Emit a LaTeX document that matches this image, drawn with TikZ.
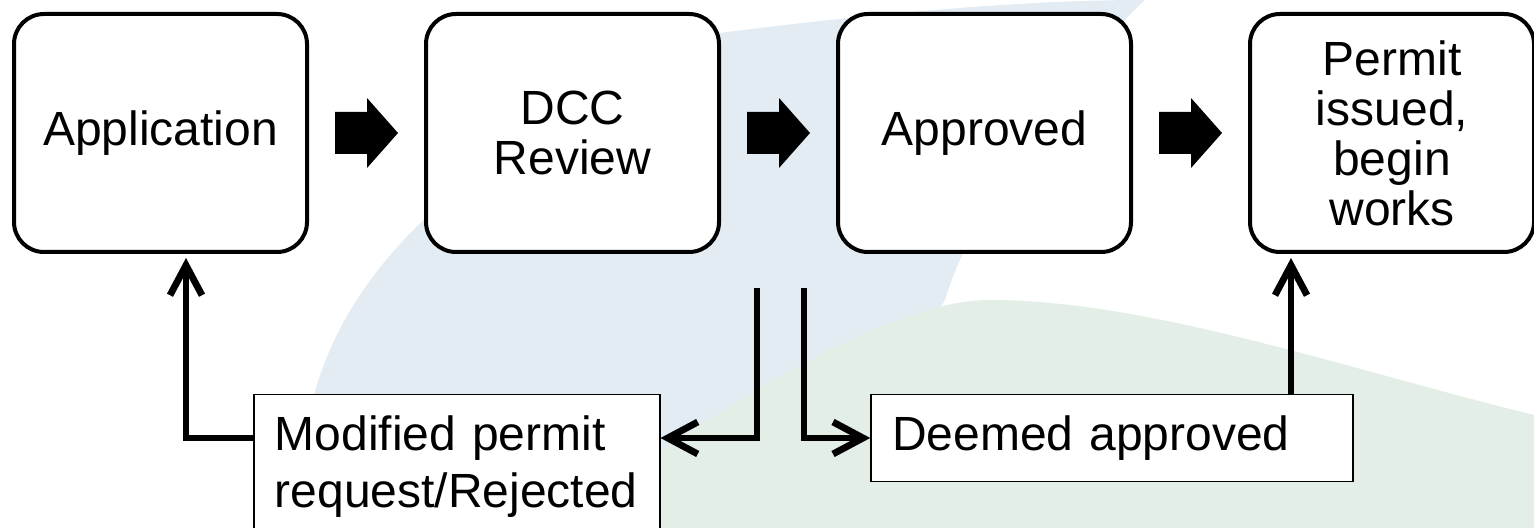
\documentclass[tikz,border=0pt]{standalone}
\usepackage{fontspec}
\setmainfont{Liberation Sans}
\usetikzlibrary{positioning,calc,arrows.meta}
\definecolor{bgblue}{HTML}{E3EBF3}
\definecolor{bggreen}{HTML}{E3EEE6}
\tikzset{
	stage/.style={draw, line width=2pt, rounded corners=15pt, fill=white, minimum width=146.5pt, minimum height=119pt, align=center, inner sep=0pt, font=\fontsize{24}{25}\selectfont},
	outcome/.style={draw, line width=0.75pt, fill=white, inner xsep=10.5pt, inner ysep=10.5pt, align=left, font=\fontsize{24}{28.5}\selectfont},
	flow/.style={line width=3.4pt, -{Straight Barb[length=15pt,width=16pt]}},
}
\begin{document}
\begin{tikzpicture}[x=0.5pt,y=-0.5pt,node distance=57.5pt]
	\useasboundingbox (0,0) rectangle (1534,528);

	% background
	\fill[bgblue] (300,528) .. controls (295,350) and (360,200) .. (720,33) .. controls (900,10) and (1040,0) .. (1145,0) .. controls (1080,60) and (975,200) .. (945,300) -- (800,528) -- cycle;
	\fill[bggreen] (550,528) .. controls (700,420) and (880,300) .. (990,300) .. controls (1150,300) and (1350,370) .. (1534,415) -- (1534,528) -- cycle;

	% stages
	\node[stage] (app) at (160.5,133) {Application};
	\node[stage, right=of app] (rev) {DCC\\Review};
	\node[stage, right=of rev] (ok) {Approved};
	\node[stage, right=of ok, minimum width=142pt] (per) {Permit\\issued,\\begin\\works};

	% block arrows
	\foreach \a/\b in {app/rev, rev/ok, ok/per}
		\fill ($(\a.east)!0.5!(\b.west)$) ++(-31.5,-21) -- ++(32,0) -- ++(0,-14) -- ++(31,35) -- ++(-31,35) -- ++(0,-14) -- ++(-32,0) -- cycle;

	% outcomes
	\node[outcome, text width=182pt, anchor=north west] (mod) at (253,394) {Modified permit\\request/Rejected};
	\node[outcome, text width=220pt, minimum height=43pt] (dee) at (1112,438) {Deemed approved};

	\coordinate (rejtop) at (757,288);
	\coordinate (deemtop) at (804,288);
	\coordinate (appin) at (186,258);
	\coordinate (perin) at (1291,258);

	\draw[flow] (rejtop) |- (mod.east |- dee.west);
	\draw[flow] (deemtop) |- (dee.west);
	\draw[flow] (mod.west |- dee.west) -| (appin);
	\draw[flow] (dee.north -| perin) -- (perin);
\end{tikzpicture}
\end{document}
